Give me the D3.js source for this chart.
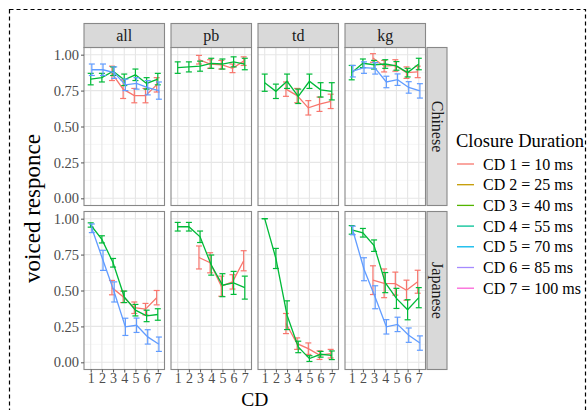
<!DOCTYPE html>
<html>
<head>
<meta charset="utf-8">
<script src="https://cdn.jsdelivr.net/npm/d3@7/dist/d3.min.js"></script>
<style>
  html, body { margin: 0; padding: 0; background: #fff; }
  svg { display: block; }
  text { font-family: "Liberation Serif", Tinos, "Times New Roman", Times, "DejaVu Serif", "Noto Serif", serif; }
</style>
</head>
<body>
<svg id="chart" width="588" height="410"></svg>
<script>
// Facets, categories and legend text
const facets = ["all", "pb", "td", "kg"];
const languages = ["Chinese", "Japanese"];
const categories = ["1", "2", "3", "4", "5", "6", "7"];
const legendLabels = ["CD 1 = 10 ms", "CD 2 = 25 ms", "CD 3 = 40 ms", "CD 4 = 55 ms",
                      "CD 5 = 70 ms", "CD 6 = 85 ms", "CD 7 = 100 ms"];
const yTicks = [0, 0.25, 0.5, 0.75, 1];

// Mean voiced response, one row per facet (all, pb, td, kg); null = not measured
const zhRed = [
  [null, null, 0.87, 0.76, 0.715, 0.715, 0.79],
  [null, null, 0.965, 0.935, 0.93, 0.905, 0.955],
  [null, null, 0.76, 0.715, 0.63, 0.655, 0.675],
  [null, null, 0.977, 0.92, 0.925, 0.875, 0.88]
];
const zhRedErr = [
  [null, null, 0.05, 0.065, 0.05, 0.05, 0.05],
  [null, null, 0.03, 0.03, 0.03, 0.03, 0.03],
  [null, null, 0.05, 0.05, 0.05, 0.05, 0.05],
  [null, null, 0.03, 0.04, 0.04, 0.04, 0.04]
];
const zhGreen = [
  [0.83, 0.84, 0.885, 0.825, 0.86, 0.80, 0.83],
  [0.91, 0.915, 0.92, 0.94, 0.935, 0.95, 0.935],
  [0.805, 0.745, 0.815, 0.71, 0.815, 0.755, 0.745],
  [0.875, 0.94, 0.93, 0.935, 0.922, 0.875, 0.935]
];
const zhGreenErr = [
  [0.04, 0.03, 0.03, 0.04, 0.04, 0.04, 0.04],
  [0.04, 0.035, 0.035, 0.035, 0.035, 0.035, 0.04],
  [0.06, 0.05, 0.05, 0.05, 0.05, 0.05, 0.06],
  [0.05, 0.03, 0.03, 0.03, 0.03, 0.03, 0.04]
];
const zhBlue = [
  [0.895, 0.895, 0.875, 0.79, 0.80, 0.77, 0.75],
  null,
  null,
  [0.885, 0.91, 0.905, 0.81, 0.826, 0.772, 0.748]
];
const zhBlueErr = [
  [0.04, 0.04, 0.04, 0.04, 0.04, 0.05, 0.06],
  null,
  null,
  [0.04, 0.04, 0.04, 0.04, 0.04, 0.04, 0.05]
];

const jaRed = [
  [null, null, 0.52, 0.456, 0.38, 0.37, 0.45],
  [null, null, 0.73, 0.693, 0.53, 0.56, 0.707],
  [null, null, 0.27, 0.13, 0.095, 0.05, 0.06],
  [null, null, 0.572, 0.55, 0.548, 0.502, 0.561]
];
const jaRedErr = [
  [null, null, 0.05, 0.04, 0.04, 0.04, 0.05],
  [null, null, 0.08, 0.07, 0.07, 0.05, 0.07],
  [null, null, 0.07, 0.04, 0.04, 0.03, 0.03],
  [null, null, 0.1, 0.1, 0.08, 0.07, 0.08]
];
const jaGreen = [
  [0.956, 0.856, 0.693, 0.456, 0.363, 0.323, 0.333],
  [0.944, 0.944, 0.874, 0.677, 0.537, 0.553, 0.52],
  [1.0, 0.723, 0.328, 0.107, 0.026, 0.056, 0.049],
  [0.922, 0.902, 0.812, 0.555, 0.445, 0.366, 0.45]
];
const jaGreenErr = [
  [0.015, 0.025, 0.03, 0.04, 0.04, 0.04, 0.04],
  [0.03, 0.03, 0.04, 0.07, 0.08, 0.08, 0.08],
  [0.0, 0.07, 0.1, 0.04, 0.02, 0.02, 0.03],
  [0.03, 0.03, 0.04, 0.07, 0.07, 0.07, 0.07]
];
const jaBlue = [
  [0.933, 0.71, 0.49, 0.247, 0.258, 0.177, 0.126],
  null,
  null,
  [0.918, 0.648, 0.453, 0.247, 0.264, 0.189, 0.134]
];
const jaBlueErr = [
  [0.03, 0.07, 0.07, 0.06, 0.05, 0.05, 0.05],
  null,
  null,
  [0.03, 0.08, 0.08, 0.05, 0.05, 0.05, 0.05]
];

const seriesColors = ["#F8766D", "#00BA38", "#619CFF"];
const legendColors = ["#F8766D", "#C49A00", "#53B400", "#00C094", "#00B6EB", "#A58AFF", "#FB61D7"];
const dodge = [-0.1, 0, 0.1];

const seriesByLanguage = [
  [[zhRed, zhRedErr], [zhGreen, zhGreenErr], [zhBlue, zhBlueErr]],
  [[jaRed, jaRedErr], [jaGreen, jaGreenErr], [jaBlue, jaBlueErr]]
];

const serif = '"Liberation Serif", Tinos, "Times New Roman", Times, "DejaVu Serif", "Noto Serif", serif';

// Layout
const svg = d3.select("#chart");
const panelW = 80.5, panelH = 158;
const colX = [84, 171, 258, 345];
const rowY = [47.5, 211.5];
const stripTop = 23.5, stripH = 24;
const rightStripX = 427, rightStripW = 20;

// Outer dashed frame
svg.append("rect")
  .attr("x", 9.5).attr("y", 9.5)
  .attr("width", 576).attr("height", 420)
  .attr("fill", "none").attr("stroke", "#000")
  .attr("stroke-width", 1.2).attr("stroke-dasharray", "4,3");

const y = d3.scaleLinear().domain([-0.05, 1.05]).range([panelH, 0]);
const xBand = d3.scaleLinear().domain([0.4, 7.6]).range([0, panelW]);
const minorTicks = [0.125, 0.375, 0.625, 0.875];

languages.forEach((lang, r) => {
  facets.forEach((facet, c) => {
    const g = svg.append("g").attr("transform", `translate(${colX[c]},${rowY[r]})`);

    g.append("rect").attr("width", panelW).attr("height", panelH).attr("fill", "#fff");

    // grid
    g.selectAll(".minor").data(minorTicks).join("line")
      .attr("x1", 0).attr("x2", panelW)
      .attr("y1", d => y(d)).attr("y2", d => y(d))
      .attr("stroke", "#f2f2f2").attr("stroke-width", 0.6);
    g.selectAll(".hmajor").data(yTicks).join("line")
      .attr("x1", 0).attr("x2", panelW)
      .attr("y1", d => y(d)).attr("y2", d => y(d))
      .attr("stroke", "#e6e6e6").attr("stroke-width", 1.1);
    g.selectAll(".vmajor").data(categories).join("line")
      .attr("x1", d => xBand(+d)).attr("x2", d => xBand(+d))
      .attr("y1", 0).attr("y2", panelH)
      .attr("stroke", "#e6e6e6").attr("stroke-width", 1.1);

    // series
    seriesByLanguage[r].forEach(([means, errs], s) => {
      const m = means[c];
      if (!m) return;
      const e = errs[c];
      const pts = categories.map((cat, i) => ({
        x: xBand(+cat + dodge[s]), v: m[i], e: e[i]
      })).filter(p => p.v !== null);
      const color = seriesColors[s];

      g.append("path")
        .datum(pts)
        .attr("fill", "none").attr("stroke", color).attr("stroke-width", 1.3)
        .attr("d", d3.line().x(p => p.x).y(p => y(p.v)));

      const eb = g.append("g").attr("stroke", color).attr("stroke-width", 1.2).attr("fill", "none");
      pts.forEach(p => {
        const y0 = y(p.v - p.e), y1 = y(p.v + p.e);
        eb.append("line").attr("x1", p.x).attr("x2", p.x).attr("y1", y0).attr("y2", y1);
        eb.append("line").attr("x1", p.x - 3).attr("x2", p.x + 3).attr("y1", y0).attr("y2", y0);
        eb.append("line").attr("x1", p.x - 3).attr("x2", p.x + 3).attr("y1", y1).attr("y2", y1);
      });
    });

    // panel border
    g.append("rect").attr("width", panelW).attr("height", panelH)
      .attr("fill", "none").attr("stroke", "#888").attr("stroke-width", 1.1);

    // top strips
    if (r === 0) {
      const sg = svg.append("g").attr("transform", `translate(${colX[c]},${stripTop})`);
      sg.append("rect").attr("width", panelW).attr("height", stripH)
        .attr("fill", "#d9d9d9").attr("stroke", "#888").attr("stroke-width", 1.1);
      sg.append("text").attr("x", panelW / 2).attr("y", stripH / 2 + 5)
        .attr("text-anchor", "middle").attr("font-size", 16).attr("fill", "#1a1a1a")
        .text(facet);
    }

    // y axis on first column
    if (c === 0) {
      const ax = g.append("g").call(d3.axisLeft(y).tickValues(yTicks)
        .tickFormat(d3.format(".2f")).tickSize(3).tickPadding(2));
      ax.attr("font-family", serif);
      ax.select(".domain").remove();
      ax.selectAll("line").attr("stroke", "#555");
      ax.selectAll("text").attr("font-size", 14.5).attr("fill", "#4d4d4d");
    }

    // x axis on bottom row
    if (r === 1) {
      const ax = g.append("g").attr("transform", `translate(0,${panelH})`)
        .call(d3.axisBottom(xBand).tickValues(categories.map(Number))
          .tickFormat(d3.format("d")).tickSize(3).tickPadding(1));
      ax.attr("font-family", serif);
      ax.select(".domain").remove();
      ax.selectAll("line").attr("stroke", "#555");
      ax.selectAll("text").attr("font-size", 14).attr("fill", "#4d4d4d");
    }
  });

  // right strips
  const rg = svg.append("g").attr("transform", `translate(${rightStripX},${rowY[r]})`);
  rg.append("rect").attr("width", rightStripW).attr("height", panelH)
    .attr("fill", "#d9d9d9").attr("stroke", "#888").attr("stroke-width", 1.1);
  rg.append("text")
    .attr("transform", `translate(${rightStripW / 2 - 5},${panelH / 2}) rotate(90)`)
    .attr("text-anchor", "middle").attr("font-size", 16).attr("fill", "#1a1a1a")
    .text(lang);
});

// axis titles
svg.append("text").attr("x", colX[0] + (colX[3] + panelW - colX[0]) / 2).attr("y", 406)
  .attr("text-anchor", "middle").attr("font-size", 19.5).text("CD");
svg.append("text")
  .attr("transform", `translate(40,${(rowY[0] + rowY[1] + panelH) / 2}) rotate(-90)`)
  .attr("text-anchor", "middle").attr("font-size", 23).text("voiced responce");

// legend
const lg = svg.append("g").attr("transform", "translate(456,0)");
lg.append("text").attr("x", 0).attr("y", 147).attr("font-size", 18.5).text("Closure Duration");
legendLabels.forEach((lab, i) => {
  const cy = 164 + i * 20.7;
  lg.append("line").attr("x1", 1).attr("x2", 18).attr("y1", cy).attr("y2", cy)
    .attr("stroke", legendColors[i]).attr("stroke-width", 1.3);
  lg.append("text").attr("x", 27).attr("y", cy + 5.5).attr("font-size", 16).text(lab);
});
</script>
</body>
</html>
